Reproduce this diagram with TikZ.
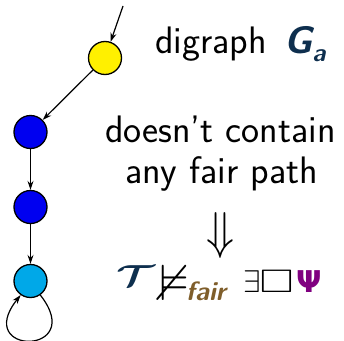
\documentclass[tikz,border=0pt]{standalone}
\usepackage{amssymb}
\usepackage{bm}
\usepackage{graphicx}
\usepackage{fontspec}
\newfontfamily\djv{DejaVu Sans}
\usetikzlibrary{arrows.meta}
\definecolor{navy}{HTML}{0E2F4E}
\definecolor{fairbrown}{HTML}{7F5E2B}
\definecolor{psipurple}{HTML}{800080}
\definecolor{styellow}{HTML}{FFF000}
\definecolor{stblue}{HTML}{0000F0}
\definecolor{stcyan}{HTML}{00A8E8}
\begin{document}
\begin{tikzpicture}[x=1pt,y=-1pt,
  st/.style={circle,draw=black,line width=1.3pt,minimum size=33pt,inner sep=0pt},
  arr/.style={-{Stealth[length=9pt,width=6pt]},line width=1.2pt},
  txt/.style={inner sep=0pt,font=\sffamily\fontsize{38.3}{42}\selectfont},
  sym/.style={inner sep=0pt,font=\fontsize{24}{26}\selectfont}]
\useasboundingbox (0,0) rectangle (344,340);
\node[st,fill=styellow] (y) at (105,58) {};
\node[st,fill=stblue] (b1) at (30.5,132) {};
\node[st,fill=stblue] (b2) at (30.5,207) {};
\node[st,fill=stcyan] (c) at (30.5,281) {};
\coordinate (in) at (123,6);
\draw[arr] (in) -- (y);
\draw[arr] (y) -- (b1);
\draw[arr] (b1) -- (b2);
\draw[arr] (b2) -- (c);
\draw[arr] (c.-55) .. controls (88,356) and (-28,356) .. (c.-125);
\node[txt,anchor=base west] (t1) at (155,53) {digraph};
\node[txt,anchor=base west] (ga) at (284,53) {\color{navy}\bfseries\itshape G\raisebox{-0.22em}{\fontsize{25}{25}\selectfont a}};
\node[txt,anchor=base] (t2) at (220.5,142) {doesn't contain};
\node[txt,anchor=base] (t3) at (221.5,183) {any fair path};
\node[sym] (t4) at (220.5,236) {\resizebox*{28pt}{46pt}{$\Downarrow$}};
\node[sym,anchor=base west] (tt) at (116,286) {\color{navy}\scalebox{1.7}[1.22]{$\bm{\mathcal{T}}$}};
\node[sym] (nm) at (174.5,282.5) {\resizebox*{30pt}{35pt}{$\nvDash$}};
\node[sym,anchor=base west,font=\sffamily\fontsize{26.5}{28}\selectfont\bfseries\itshape,text=fairbrown] (fr) at (186,300) {fair};
\node[sym,anchor=base west] (ex) at (243,292) {\scalebox{1.26}{$\exists$}};
\node[sym] (bx) at (276.5,281.5) {\resizebox*{34pt}{22pt}{$\square$}};
\node[sym,anchor=base west,font=\djv\bfseries\fontsize{30}{32}\selectfont,text=psipurple] (ps) at (296,292) {Ψ};
\end{tikzpicture}
\end{document}
